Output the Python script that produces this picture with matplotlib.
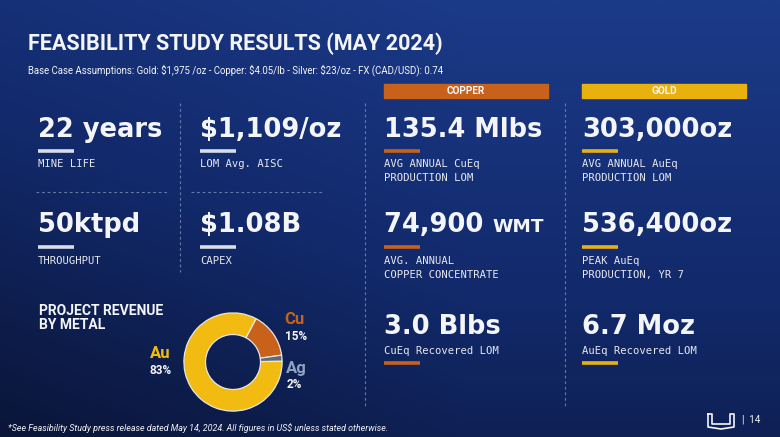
import numpy as np
import matplotlib
matplotlib.use("Agg")
import matplotlib.pyplot as plt
from matplotlib.colors import LinearSegmentedColormap

# ---------------- data ----------------
title = "FEASIBILITY STUDY RESULTS (MAY 2024)"
subtitle = "Base Case Assumptions: Gold: $1,975 /oz - Copper: $4.05/lb - Silver: $23/oz - FX (CAD/USD): 0.74"
col_headers = ["COPPER", "GOLD"]
row1_values = ["22 years", "$1,109/oz", "135.4 Mlbs", "303,000oz"]
row1_labels = ["MINE LIFE", "LOM Avg. AISC", "AVG ANNUAL CuEq\nPRODUCTION LOM", "AVG ANNUAL AuEq\nPRODUCTION LOM"]
row2_values = ["50ktpd", "$1.08B", "74,900 WMT", "536,400oz"]
row2_labels = ["THROUGHPUT", "CAPEX", "AVG. ANNUAL\nCOPPER CONCENTRATE", "PEAK AuEq\nPRODUCTION, YR 7"]
row3_values = ["3.0 Blbs", "6.7 Moz"]
row3_labels = ["CuEq Recovered LOM", "AuEq Recovered LOM"]
small_units = ["WMT"]
revenue_title = "PROJECT REVENUE\nBY METAL"
metals = ["Cu", "Ag", "Au"]
metal_share = [15, 2, 83]
footnote = "*See Feasibility Study press release dated May 14, 2024. All figures in US$ unless stated otherwise."
page_no = "|  14"

# ---------------- style ----------------
W, H = 780, 437
ORANGE = "#c8621b"
GOLD = "#e9b10d"
GOLD_PIE = "#f2bb12"
AG = "#5b6b7c"
AG_TXT = "#8fa3c0"
WHITE = "#f4f5f8"
LINEW = "#d9dde8"
DASH = "#7f8fb8"

fig = plt.figure(figsize=(W / 100, H / 100), dpi=100)
ax = fig.add_axes([0, 0, 1, 1])
ax.set_xlim(0, W)
ax.set_ylim(H, 0)
ax.axis("off")
renderer = fig.canvas.get_renderer()

# background gradient
yy, xx = np.mgrid[0:1:200j, 0:1:360j]
bg = 0.6 * (1 - yy) + 0.2 * xx + 0.2 * (1 - np.abs(xx - 0.6))
cmap = LinearSegmentedColormap.from_list("bg", ["#0a1538", "#12296a", "#1b3a88"])
ax.imshow(bg, extent=[0, W, H, 0], cmap=cmap, aspect="auto", zorder=0)

HEAVY = dict(family=["DejaVu Sans"], weight="bold", color=WHITE)
NARROW = ["Roboto", "DejaVu Sans"]
MONO = dict(family=["DejaVu Sans Mono"], color="#e6e8ef")

ax.text(28, 44, title, fontsize=15.5, fontweight="bold", family=NARROW,
        color=WHITE, va="center", ha="left")
ax.text(28, 70, subtitle, fontsize=6.9, family=NARROW, color=WHITE,
        va="center", ha="left")

# column headers
for x0, name, c in [(384, col_headers[0], ORANGE), (582, col_headers[1], GOLD)]:
    ax.add_patch(plt.Rectangle((x0, 84), 164, 14, color=c, zorder=2))
    ax.text(x0 + 82, 91.5, name, fontsize=7.2, fontweight="bold", family=NARROW,
            color=WHITE, ha="center", va="center", zorder=3)

cols_x = [38, 200, 384, 582]
line_cols = [LINEW, LINEW, ORANGE, GOLD]
VS = 18.5
LS = 7.6

def value_text(x, yb, value):
    parts = value.rsplit(" ", 1)
    if len(parts) == 2 and parts[1] in small_units:
        t = ax.text(x, yb, parts[0] + " ", fontsize=VS, va="baseline", ha="left", **HEAVY)
        bb = t.get_window_extent(renderer)
        x2 = ax.transData.inverted().transform((bb.x1, 0))[0]
        ax.text(x2, yb, parts[1], fontsize=VS * 0.72, va="baseline", ha="left", **HEAVY)
    else:
        ax.text(x, yb, value, fontsize=VS, va="baseline", ha="left", **HEAVY)

def stat(x, yb, value, yl, label, lc, yline):
    value_text(x, yb, value)
    ax.plot([x, x + 36], [yline, yline], color=lc, lw=2.6, solid_capstyle="butt")
    ax.text(x, yl, label, fontsize=LS, va="top", ha="left", linespacing=1.55, **MONO)

for i in range(4):
    stat(cols_x[i], 137, row1_values[i], 159, row1_labels[i], line_cols[i], 151)
    stat(cols_x[i], 232, row2_values[i], 256, row2_labels[i], line_cols[i], 247)

for j, x in enumerate(cols_x[2:]):
    value_text(x, 334, row3_values[j])
    ax.text(x, 346, row3_labels[j], fontsize=LS, va="top", ha="left", **MONO)
    ax.plot([x, x + 36], [363, 363], color=line_cols[2 + j], lw=2.6, solid_capstyle="butt")

# dashed separators
dkw = dict(color=DASH, lw=0.8, ls=(0, (2.5, 2.5)), alpha=0.8)
ax.plot([180, 180], [103, 272], **dkw)
ax.plot([365, 365], [103, 408], **dkw)
ax.plot([565, 565], [103, 408], **dkw)
ax.plot([36, 167], [192, 192], **dkw)
ax.plot([191, 322], [192, 192], **dkw)

# revenue donut
ax.text(39, 318, revenue_title, fontsize=10, fontweight="bold", family=["Roboto", "DejaVu Sans"],
        color=WHITE, va="center", ha="left", linespacing=1.05)
S = 108
pax = fig.add_axes([(233 - S / 2) / W, 1 - (362 + S / 2) / H, S / W, S / H])
pax.pie(metal_share, colors=[ORANGE, AG, GOLD_PIE], startangle=62, counterclock=False,
        radius=1.0, wedgeprops=dict(width=0.44, edgecolor="#e6e6e6", linewidth=0.9))
pax.set_xlim(-1.1, 1.1)
pax.set_ylim(-1.1, 1.1)
pax.set_aspect("equal")
pax.axis("off")

lab = dict(family=["Roboto", "DejaVu Sans"], weight="bold", va="center", ha="left")
ax.text(284, 320, metals[0], fontsize=12, color=ORANGE, **lab)
ax.text(285, 337, f"{metal_share[0]}%", fontsize=8.5, color=WHITE, **lab)
ax.text(286, 368, metals[1], fontsize=12, color=AG_TXT, **lab)
ax.text(287, 384, f"{metal_share[1]}%", fontsize=8.5, color=WHITE, **lab)
ax.text(150, 353, metals[2], fontsize=12, color=GOLD_PIE, **lab)
ax.text(150, 371, f"{metal_share[2]}%", fontsize=8.5, color=WHITE, **lab)

ax.text(8, 428, footnote, fontsize=6.4, style="italic", family=NARROW, color=WHITE,
        va="center", ha="left")

# logo + page number
lx, ly = 708, 420
xs = [lx, lx + 4, lx + 4, lx + 22, lx + 22, lx + 26, lx + 26, lx + 13, lx]
ys = [ly - 6, ly - 6, ly + 4, ly + 4, ly - 6, ly - 6, ly + 7, ly + 9, ly + 7]
ax.plot(xs + [xs[0]], ys + [ys[0]], color=WHITE, lw=1.2)
ax.text(742, 420, page_no, fontsize=7, color=WHITE, family=["Roboto", "DejaVu Sans"],
        va="center", ha="left")

fig.savefig("out.png", dpi=100)
